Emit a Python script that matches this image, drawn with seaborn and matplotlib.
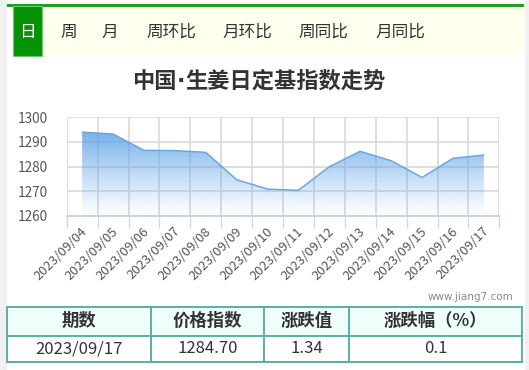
import numpy as np
import pandas as pd
import seaborn as sns
import matplotlib
matplotlib.use("Agg")
import matplotlib.pyplot as plt
import matplotlib.transforms as mtransforms
from matplotlib.patches import Rectangle, PathPatch

# ---- data ----
dates = ["2023/09/04", "2023/09/05", "2023/09/06", "2023/09/07", "2023/09/08",
         "2023/09/09", "2023/09/10", "2023/09/11", "2023/09/12", "2023/09/13",
         "2023/09/14", "2023/09/15", "2023/09/16", "2023/09/17"]
values = [1294.0, 1293.2, 1286.6, 1286.5, 1285.8, 1274.7, 1270.9, 1270.4,
          1280.0, 1286.2, 1282.4, 1275.6, 1283.36, 1284.70]
y_ticks = [1260, 1270, 1280, 1290, 1300]
tabs = ["日", "周", "月", "周环比", "月环比", "周同比", "月同比"]
title_parts = ["中国", "·", "生姜日定基指数走势"]
table_header = ["期数", "价格指数", "涨跌值", "涨跌幅（%）"]
table_row = ["2023/09/17", "1284.70", "1.34", "0.1"]
watermark = "www.jiang7.com"

sns.set_theme(style="white")
plt.rcParams['font.family'] = ['Noto Sans CJK SC', 'DejaVu Sans']

W, H = 529, 370
fig = plt.figure(figsize=(W / 100, H / 100), dpi=100)
fig.patch.set_facecolor("white")

# background / decoration axes in pixel coords
bg = fig.add_axes([0, 0, 1, 1], zorder=0)
bg.set_xlim(0, W)
bg.set_ylim(H, 0)
bg.axis("off")

bg.add_patch(Rectangle((0, 0), 6.5, H, color="#f1f1f1", lw=0))
bg.add_patch(Rectangle((524.5, 0), 5, H, color="#f1f1f1", lw=0))
bg.add_patch(Rectangle((12, 6), 511, 50, color="#ffffee", lw=0))
bg.add_patch(Rectangle((6.5, 4), 517, 2.5, color="#1f9e1f", lw=0))
bg.add_patch(Rectangle((12.5, 6), 29.5, 50, facecolor="#049304",
                       edgecolor="#6cc96c", lw=0.8))

tab_x = [27, 69, 110, 171, 247, 323, 400]
for t, x in zip(tabs, tab_x):
    bg.text(x, 32, t, ha="center", va="center", fontsize=12,
            color="white" if t == "日" else "#333333")

# title in three pieces so the middle dot stays narrow
renderer = fig.canvas.get_renderer()
title_fs = 16
fams = [['Noto Sans CJK SC'], ['DejaVu Sans'], ['Noto Sans CJK SC']]
pieces = []
widths = []
for part, fam in zip(title_parts, fams):
    t = bg.text(0, 81, part, ha="left", va="center", fontsize=title_fs,
                fontweight="bold", color="#333333", family=fam)
    widths.append(t.get_window_extent(renderer=renderer).width)
    pieces.append(t)
total = sum(widths)
x = 259 - total / 2
for t, w in zip(pieces, widths):
    t.set_x(x)
    x += w

bg.text(470, 297, watermark, ha="center", va="center", fontsize=7.5,
        color="#888888", family=['DejaVu Sans'])

# table
tx0, tx1 = 7, 522
ty0, ty1, ty2 = 306.5, 336, 361.5
cols = [tx0, 150.7, 264, 349.3, tx1]
bg.add_patch(Rectangle((tx0, ty0), tx1 - tx0, ty1 - ty0, facecolor="#effffa", lw=0))
tcol = "#5aaea6"
for yy in (ty0, ty1, ty2):
    bg.plot([tx0, tx1], [yy, yy], color=tcol, lw=1.4, solid_capstyle="projecting")
for xx in cols:
    bg.plot([xx, xx], [ty0, ty2], color=tcol, lw=1.4, solid_capstyle="projecting")
for i in range(4):
    cx = (cols[i] + cols[i + 1]) / 2
    bg.text(cx, (ty0 + ty1) / 2, table_header[i], ha="center", va="center",
            fontsize=12.5, fontweight="bold", color="#333333")
    bg.text(cx, (ty1 + ty2) / 2, table_row[i], ha="center", va="center",
            fontsize=12, color="#333333")

# ---- main chart ----
px_l, px_r, py_t, py_b = 66.7, 499.3, 117.3, 216.0
ax = fig.add_axes([px_l / W, 1 - py_b / H, (px_r - px_l) / W, (py_b - py_t) / H],
                  zorder=1)
ax.patch.set_alpha(0)

n = len(dates)
df = pd.DataFrame({"pos": np.arange(n), "date": dates, "value": values})

ax.set_xlim(-0.5, n - 0.5)
ax.set_ylim(y_ticks[0], y_ticks[-1])

# gradient fill clipped to area
poly = ax.fill_between(df["pos"], df["value"], y_ticks[0], color="none", lw=0)
path = poly.get_paths()[0]
clip = PathPatch(path, transform=ax.transData, facecolor="none", edgecolor="none")
ax.add_patch(clip)
ymax = max(values)
grad = np.zeros((256, 1, 4))
base = matplotlib.colors.to_rgb("#5ea2e6")
grad[:, 0, 0] = base[0]
grad[:, 0, 1] = base[1]
grad[:, 0, 2] = base[2]
grad[:, 0, 3] = np.linspace(0.0, 0.85, 256) ** 1.1
im = ax.imshow(grad, extent=[0, n - 1, y_ticks[0], ymax], aspect="auto",
               origin="lower", zorder=2, interpolation="bilinear")
im.set_clip_path(clip)

sns.lineplot(data=df, x="pos", y="value", ax=ax, color="#6aa6e4",
             linewidth=1.1, zorder=3)

# grid
ax.set_yticks(y_ticks)
ax.set_yticklabels([str(v) for v in y_ticks])
ax.set_xticks(np.arange(n))
ax.set_xticklabels(dates)
ax.set_xticks(np.arange(n + 1) - 0.5, minor=True)
ax.grid(False)
ax.yaxis.grid(True, which="major", color="#dcdcdc", lw=1.3)
ax.xaxis.grid(True, which="minor", color="#dcdcdc", lw=1.3)
ax.set_axisbelow(True)
for s in ["top", "right", "left"]:
    ax.spines[s].set_visible(False)
ax.spines["bottom"].set_color("#c6d4e2")
ax.spines["bottom"].set_linewidth(1.4)
ax.spines["bottom"].set_zorder(4)

ax.tick_params(axis="y", which="major", length=0, pad=13.5, labelsize=9.8,
               labelcolor="#555555")
ax.tick_params(axis="x", which="major", length=0, pad=9.5, labelsize=9.4,
               labelcolor="#555555")
ax.tick_params(axis="x", which="minor", length=8.5, width=1.0, color="#d0dae6",
               direction="out", bottom=True)
offset = mtransforms.ScaledTranslation(3 / 100, 0, fig.dpi_scale_trans)
for lab in ax.get_xticklabels():
    lab.set_rotation(45)
    lab.set_ha("right")
    lab.set_va("center")
    lab.set_rotation_mode("anchor")
    lab.set_transform(lab.get_transform() + offset)
ax.set_xlabel("")
ax.set_ylabel("")

fig.savefig("out.png", dpi=100)
